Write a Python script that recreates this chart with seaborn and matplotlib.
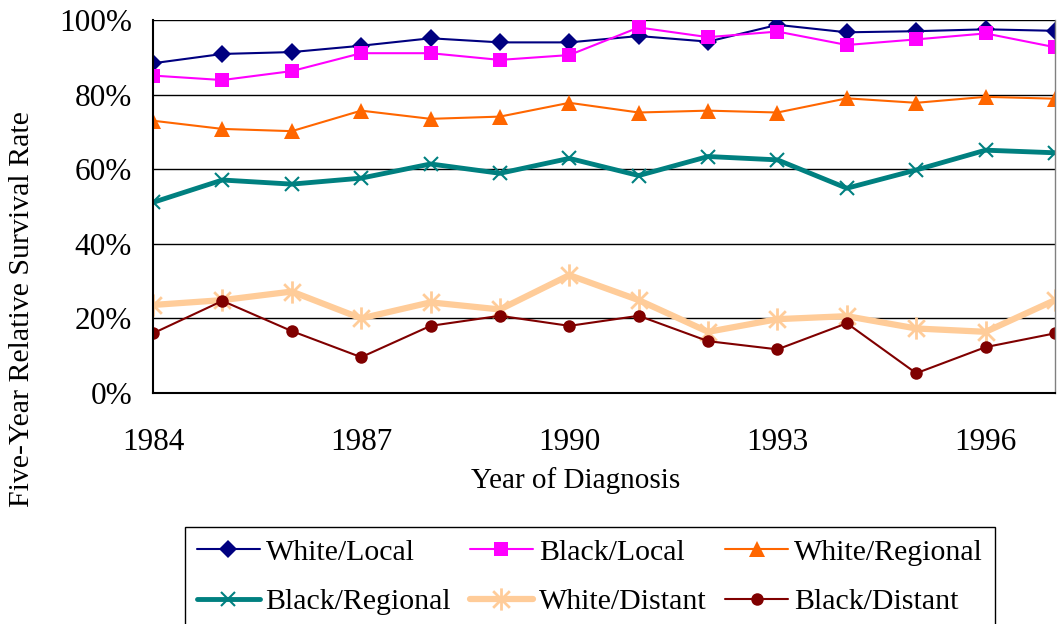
import numpy as np
import pandas as pd
import matplotlib
matplotlib.use("Agg")
import matplotlib.pyplot as plt
from matplotlib.path import Path
from matplotlib.ticker import MultipleLocator, FixedLocator, FuncFormatter
import seaborn as sns

years = [1984, 1985, 1986, 1987, 1988, 1989, 1990, 1991, 1992, 1993, 1994, 1995, 1996, 1997]
white_local    = [88.4, 90.9, 91.4, 93.1, 95.1, 94.0, 94.0, 95.7, 94.2, 98.7, 96.7, 97.0, 97.5, 97.1]
black_local    = [85.1, 83.9, 86.3, 91.1, 91.1, 89.3, 90.6, 98.0, 95.4, 96.9, 93.3, 94.8, 96.4, 92.7]
white_regional = [73.0, 70.8, 70.2, 75.7, 73.5, 74.1, 77.8, 75.2, 75.7, 75.2, 79.0, 77.8, 79.4, 78.9]
black_regional = [51.1, 57.1, 56.0, 57.6, 61.4, 58.9, 62.9, 58.3, 63.4, 62.5, 54.9, 59.8, 65.1, 64.4]
white_distant  = [23.6, 24.9, 27.2, 20.0, 24.3, 22.4, 31.6, 24.9, 16.4, 19.8, 20.6, 17.3, 16.4, 24.9]
black_distant  = [16.0, 24.7, 16.6, 9.6, 18.0, 20.7, 18.0, 20.7, 13.9, 11.7, 18.7, 5.3, 12.3, 16.0]
labeled_years = [1984, 1987, 1990, 1993, 1996]

series_names = ["White/Local", "Black/Local", "White/Regional",
                "Black/Regional", "White/Distant", "Black/Distant"]
series_values = [white_local, black_local, white_regional,
                 black_regional, white_distant, black_distant]

sns.set_style("white")
plt.rcParams['font.family'] = ['Liberation Serif', 'DejaVu Serif']
plt.rcParams['text.color'] = 'black'
plt.rcParams['xtick.color'] = 'black'
plt.rcParams['ytick.color'] = 'black'
plt.rcParams['xtick.labelcolor'] = 'black'
plt.rcParams['ytick.labelcolor'] = 'black'

asterisk = Path([(0, -1), (0, 1), (-0.75, -0.75), (0.75, 0.75), (-0.75, 0.75), (0.75, -0.75)],
                [Path.MOVETO, Path.LINETO, Path.MOVETO, Path.LINETO, Path.MOVETO, Path.LINETO])

styles = {
    "White/Local":    dict(color="#000080", marker="D", ms=9, lw=1.5, mew=0),
    "Black/Local":    dict(color="#FF00FF", marker="s", ms=9.5, lw=1.5, mew=0),
    "White/Regional": dict(color="#FF6600", marker="^", ms=11, lw=1.5, mew=0),
    "Black/Regional": dict(color="#008080", marker="x", ms=10, lw=3.5, mew=1.5),
    "White/Distant":  dict(color="#FFCC99", marker=asterisk, ms=16, lw=4.5, mew=2),
    "Black/Distant":  dict(color="#800000", marker="o", ms=9, lw=1.5, mew=0),
}

fig = plt.figure(figsize=(10.57, 6.24), dpi=100)
ax = fig.add_axes([153/1057, 1-393/624, (1055-153)/1057, (393-20)/624])

for name, vals in zip(series_names, series_values):
    st = styles[name]
    df = pd.DataFrame({"Year": years, "Rate": np.array(vals) / 100.0})
    sns.lineplot(data=df, x="Year", y="Rate", ax=ax, color=st["color"], lw=st["lw"],
                 marker=st["marker"], markersize=st["ms"], markeredgewidth=st["mew"],
                 markeredgecolor=st["color"], markerfacecolor=st["color"], label=name)

ax.set_xlim(1984, 1997)
ax.set_ylim(0, 1.0)
ax.xaxis.set_major_locator(FixedLocator(labeled_years))
ax.xaxis.set_minor_locator(FixedLocator([y for y in years if y not in labeled_years]))
ax.xaxis.set_major_formatter(FuncFormatter(lambda v, p: f"{v:.0f}"))
ax.yaxis.set_major_locator(MultipleLocator(0.2))
ax.yaxis.set_minor_locator(MultipleLocator(0.05))
ax.yaxis.set_major_formatter(FuncFormatter(lambda v, p: f"{v*100:.0f}%"))
ax.tick_params(axis="x", which="major", direction="inout", length=18, width=1.2,
               labelsize=22.5, pad=16, color="black", labelcolor="black")
ax.tick_params(axis="x", which="minor", direction="in", length=9, width=1.0, color="black")
ax.tick_params(axis="y", which="both", direction="inout", length=18, width=1.2,
               labelsize=22.5, pad=6, color="black", labelcolor="black")
ax.grid(axis="y", which="major", color="black", lw=1.0)
ax.set_axisbelow(True)
for s in ["left", "bottom"]:
    ax.spines[s].set_color("black")
    ax.spines[s].set_linewidth(1.5)
ax.spines["top"].set_visible(False)
ax.spines["right"].set_color("#808080")
ax.spines["right"].set_linewidth(1.0)
ax.set_xlabel("")
ax.set_ylabel("")
ax.get_legend().remove()

fig.text(576/1057, 1-481/624, "Year of Diagnosis", ha="center", va="center", fontsize=21)
fig.text(22/1057, 1-309/624, "Five-Year Relative Survival Rate", ha="center", va="center",
         rotation=90, fontsize=21.5)

handles, labels = ax.get_legend_handles_labels()
order = [0, 3, 1, 4, 2, 5]
leg = fig.legend([handles[i] for i in order], [labels[i] for i in order], ncol=3,
                 loc="upper left", bbox_to_anchor=(185/1057, 1-527/624), fontsize=21.5,
                 frameon=True, fancybox=False, edgecolor="black", framealpha=1,
                 handlelength=2.1, handletextpad=0.2, columnspacing=0.63,
                 labelspacing=0.75, borderpad=0.4, borderaxespad=0)
leg.get_frame().set_linewidth(1.0)

fig.savefig("out.png", dpi=100)
